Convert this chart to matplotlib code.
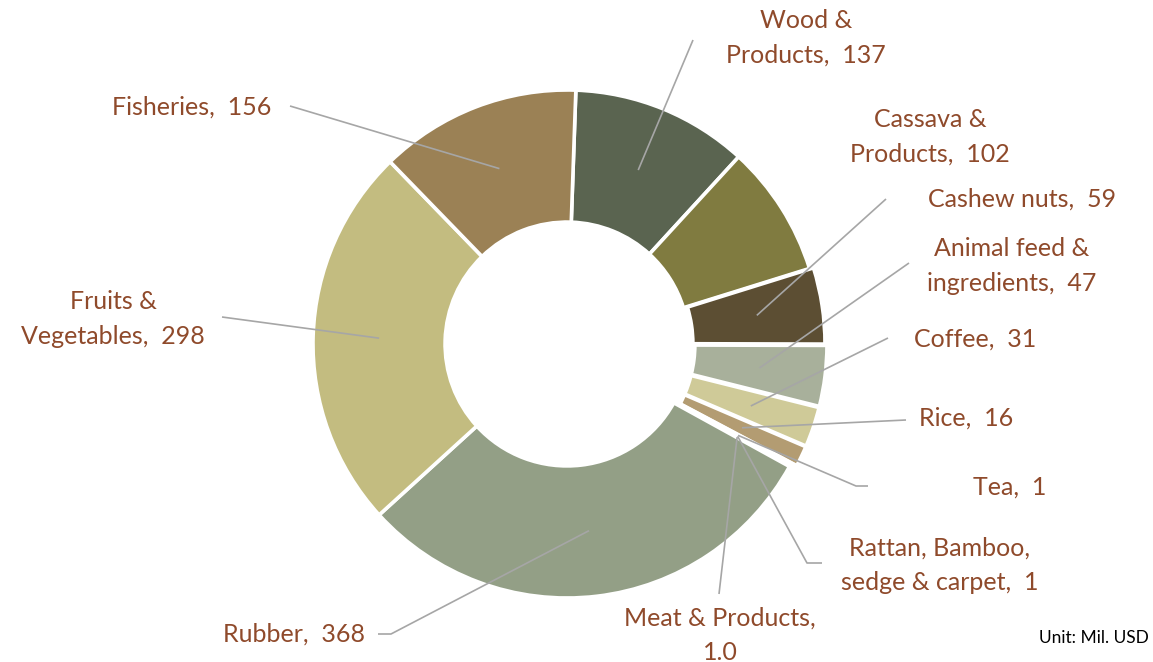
import numpy as np
import matplotlib
matplotlib.use('Agg')
import matplotlib.pyplot as plt

# export values by product group, Mil. USD (clockwise from the top)
products = ['Wood &\nProducts', 'Cassava &\nProducts', 'Cashew nuts',
            'Animal feed &\ningredients', 'Coffee', 'Rice', 'Tea',
            'Rattan, Bamboo,\nsedge & carpet', 'Meat & Products,', 'Rubber',
            'Fruits &\nVegetables', 'Fisheries']
values = [137, 102, 59, 47, 31, 16, 1, 1, 1.0, 368, 298, 156]
value_text = ['137', '102', '59', '47', '31', '16', '1', '1', '\n1.0', '368', '298', '156']
colors = ['#5a6450', '#807b40', '#5c4e33', '#a8b09b', '#cfca98', '#b39c72',
          '#b39c72', '#a89a7a', '#939f86', '#939f86', '#c3bc80', '#9b8155']

W, H = 1153, 662
cx, cy, R = 567, H - 344, 254
ring = 0.52

# label placement in pixel coords (y from top): text centre, leader start points
label_pos = [
    ((806, 38), [(693, 40)]),
    ((930, 137), None),
    ((1022, 199), [(886, 199)]),
    ((1012, 266), [(909, 263)]),
    ((975, 339), [(888, 338)]),
    ((966, 418), [(906, 420)]),
    ((1010, 487), [(868, 486), (856, 486)]),
    ((940, 565), [(822, 563), (807, 563)]),
    ((720, 635), [(719, 594)]),
    ((294, 634), [(378, 634), (391, 634)]),
    ((113, 319), [(222, 317)]),
    ((192, 107), [(290, 106)]),
]
explode = [0, 0, 4, 6, 6, 6, 6, 6, 6, 0, 0, 0]

plt.rcParams['font.family'] = ['Lato', 'DejaVu Sans']
fig = plt.figure(figsize=(W / 100, H / 100), dpi=100)
ax = fig.add_axes([0, 0, 1, 1])

wedges, _ = ax.pie(values, colors=colors, startangle=88, counterclock=False,
                   center=(cx, cy), radius=R, explode=explode,
                   wedgeprops=dict(width=R * ring, edgecolor='white', linewidth=2.6))
ax.set_xlim(0, W)
ax.set_ylim(0, H)
ax.set_aspect('equal')
ax.axis('off')

txt_color = '#8f4a2b'
line_color = '#a6a6a6'
rmid = R * (1 - ring / 2)
for w, name, vt, (tpos, pts) in zip(wedges, products, value_text, label_pos):
    ang = np.deg2rad((w.theta1 + w.theta2) / 2)
    ax0, ay0 = w.center
    anchor = (ax0 + rmid * np.cos(ang), ay0 + rmid * np.sin(ang))
    if vt.startswith('\n'):
        label = name + vt
    else:
        label = name + ',  ' + vt
    ax.text(tpos[0], H - tpos[1], label, ha='center', va='center',
            color=txt_color, fontsize=18, linespacing=1.6)
    if pts:
        xs = [p[0] for p in pts] + [anchor[0]]
        ys = [H - p[1] for p in pts] + [anchor[1]]
        ax.plot(xs, ys, color=line_color, lw=1.2, solid_capstyle='butt')

ax.text(1149, H - 638, 'Unit: Mil. USD', ha='right', va='center',
        color='black', fontsize=12.5)

fig.savefig('out.png', dpi=100)
